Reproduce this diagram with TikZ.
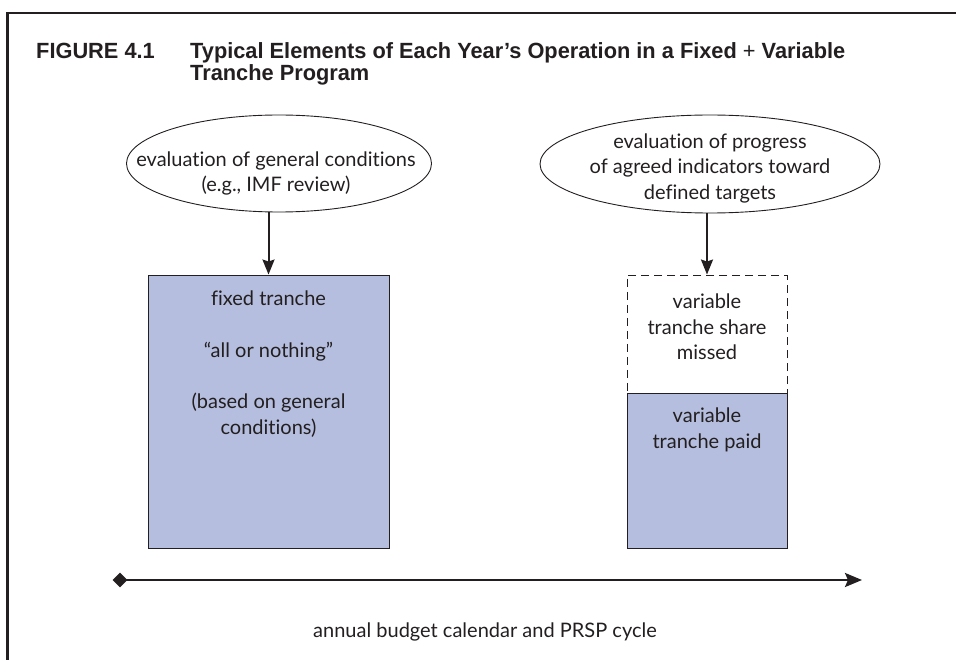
\documentclass[tikz,border=0pt]{standalone}
\usepackage{fontspec}
\setmainfont{Lato}[Ligatures=NoCommon]
\newfontfamily\titlefont[FakeStretch=0.99]{Liberation Sans}
\usetikzlibrary{arrows.meta,shapes.geometric}
\definecolor{ink}{HTML}{231F20}
\definecolor{boxfill}{HTML}{B5BEDE}
\begin{document}
\begin{tikzpicture}[x=1pt,y=-1pt,
  txt/.style={text=ink, font=\fontsize{20}{25.5}\selectfont, align=center, inner sep=0},
  ttl/.style={text=ink, font=\titlefont\bfseries\fontsize{22}{22}\selectfont, anchor=base west, inner sep=0},
  evalell/.style={ellipse, draw=ink, line width=0.9pt, inner sep=0},
  tbox/.style={draw=ink, line width=0.9pt, inner sep=0},
  arr/.style={draw=ink, line width=2pt, -{Stealth[length=15pt,width=12pt,inset=2pt]}}]
\useasboundingbox (0,0) rectangle (956,660);
\draw[ink, line width=2.5pt] (7.25,660) -- (7.25,13) -- (956,13);
% title
\node[ttl] (fig) at (36,59) {FIGURE 4.1};
\node[ttl] (t1) at (190,59) {Typical Elements of Each Year’s Operation in a Fixed {\mdseries+} Variable};
\node[ttl] (t2) at (190,81) {Tranche Program};
% ellipses
\node[evalell, minimum width=305pt, minimum height=97pt] (e1) at (279,163.5) {};
\node[txt] (e1t) at (276,173.5) {evaluation of general conditions\\(e.g., IMF review)};
\node[evalell, minimum width=340pt, minimum height=98pt] (e2) at (710,164) {};
\node[txt] (e2t) at (710,168) {evaluation of progress\\of agreed indicators toward\\defined targets};
% boxes
\node[tbox, fill=boxfill, minimum width=241pt, minimum height=273pt] (b1) at (268.5,411.5) {};
\node[txt] (b1t) at (268.5,364) {fixed tranche\\[26pt]“all or nothing”\\[26pt](based on general\\conditions)};
\node[tbox, fill=boxfill, minimum width=160pt, minimum height=155pt] (b3) at (707,470.5) {};
\node[tbox, fill=white, dash pattern=on 8pt off 5pt, minimum width=160pt, minimum height=118pt] (b2) at (707,334) {};
\node[txt] (b2t) at (707,327) {variable\\tranche share\\missed};
\node[txt] (b3t) at (707,430) {variable\\tranche paid};
% arrows
\draw[arr] (e1.south -| b1.north) -- (b1.north);
\draw[arr] (e2.south -| b2.north) -- (b2.north);
% timeline
\node[diamond, fill=ink, minimum width=15pt, minimum height=15pt, inner sep=0] (dm) at (120,580) {};
\coordinate (tl) at (862,580);
\draw[ink, line width=2.5pt, -{Stealth[length=17pt,width=14pt,inset=3pt]}] (dm.center) -- (tl);
\node[txt] (lab) at (485,632) {annual budget calendar and PRSP cycle};
\end{tikzpicture}
\end{document}
